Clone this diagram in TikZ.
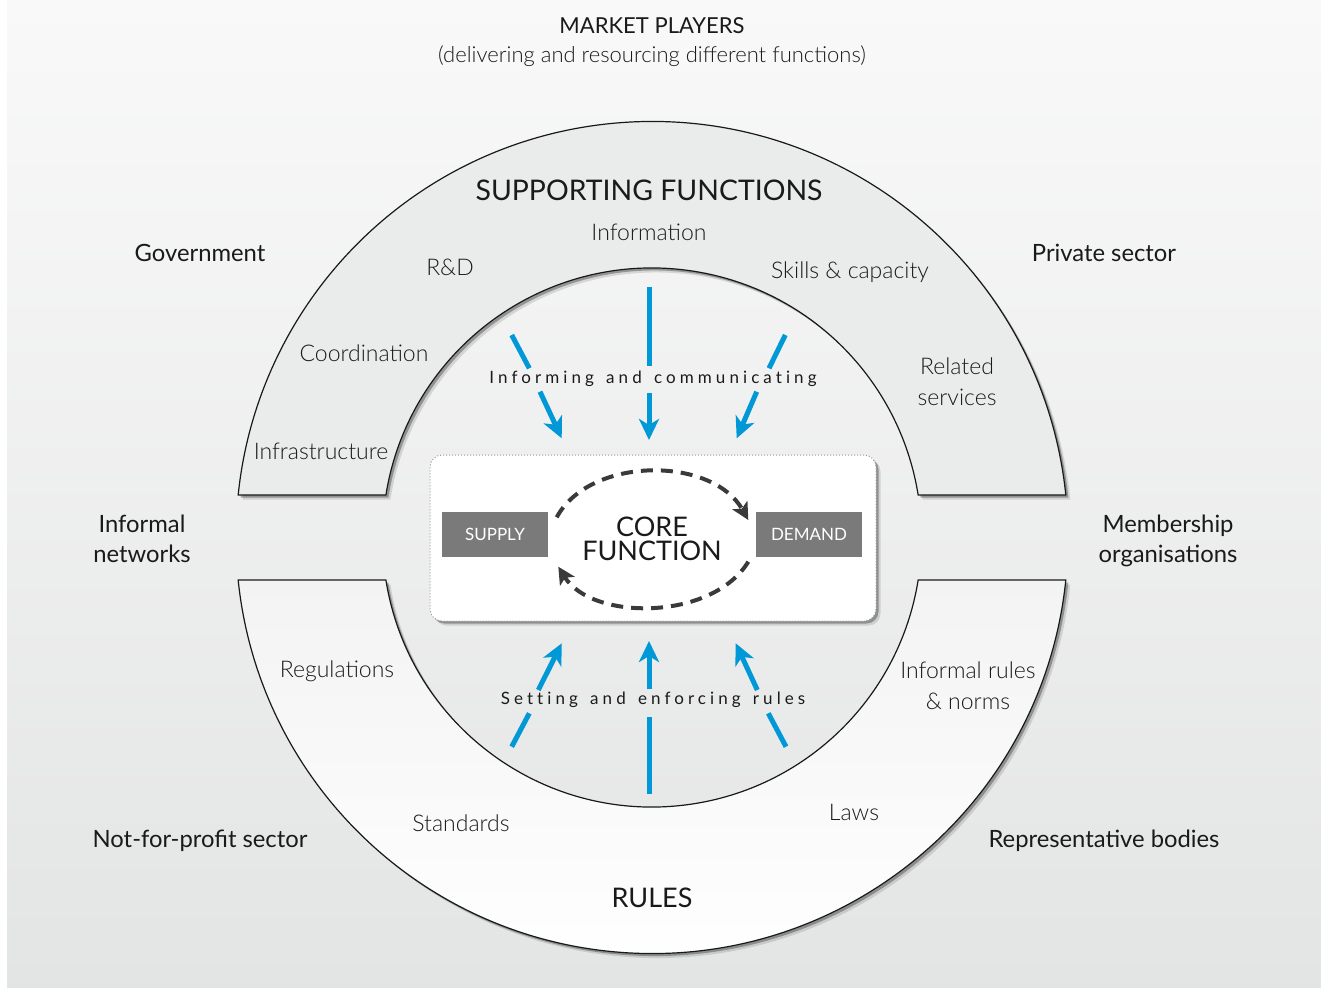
\documentclass[tikz,border=0pt]{standalone}
\usepackage{fontspec}
\setmainfont{Lato}
\newfontfamily\lightfont{Lato Light}
\newfontfamily\spacedfont{Lato}[LetterSpace=24, WordSpace=1.45, Ligatures={NoCommon}]
\usetikzlibrary{shadows,arrows.meta}
\definecolor{bgtop}{HTML}{F9F9F9}
\definecolor{bgbot}{HTML}{E3E4E4}
\definecolor{ringtop}{HTML}{EAEBEB}
\definecolor{ringbotA}{HTML}{F3F3F3}
\definecolor{ringbotB}{HTML}{FFFFFF}
\definecolor{blu}{RGB}{0,152,214}
\definecolor{boxgray}{HTML}{7A7A7A}
\definecolor{dashgray}{HTML}{3A3A3A}
\definecolor{txt}{HTML}{1A1A1A}
\definecolor{lighttxt}{HTML}{1A1A1A}
\tikzset{
  shd/.style={drop shadow={shadow xshift=4.5pt, shadow yshift=-4.5pt, fill=black, opacity=0.12},
              drop shadow={shadow xshift=2.5pt, shadow yshift=-2.5pt, fill=black, opacity=0.3}},
  ring/.style={shd, draw=black!90, line width=1.2pt, line join=miter},
  head/.style={font=\fontsize{22}{26}\selectfont, text=txt, align=center, inner sep=0pt},
  bighead/.style={font=\fontsize{28.4}{30}\selectfont, text=txt, align=center, inner sep=0pt},
  lightlbl/.style={font=\lightfont\fontsize{23}{31}\selectfont, text=lighttxt, align=center, inner sep=0pt},
  player/.style={font=\fontsize{23.8}{30}\selectfont, text=txt, align=center, inner sep=0pt},
  spaced/.style={font=\spacedfont\fontsize{17}{20}\selectfont, text=lighttxt, inner sep=0pt},
  sdbox/.style={fill=boxgray, text=white, minimum width=106pt, minimum height=45pt, inner sep=0pt, font=\fontsize{17}{20}\selectfont},
  blueline/.style={draw=blu, line width=5pt},
  bluearrow/.style={draw=blu, line width=5pt, -{Stealth[length=21pt,width=20pt,inset=6pt]}},
  dasharrow/.style={draw=dashgray, line width=4pt, dash pattern=on 12pt off 8pt, -{Stealth[length=17pt,width=17pt,inset=4pt]}}
}
\begin{document}
\begin{tikzpicture}[x=1pt,y=-1pt]
\useasboundingbox (0,0) rectangle (1321,987);
\fill[white] (0,0) rectangle (1321,987);
\shade[top color=bgtop, bottom color=bgbot] (7,0) rectangle (1321,987);

% top ring (supporting functions)
\path[ring, fill=ringtop] (1065.8,495) arc[start angle=-5.86, end angle=-174.14, radius=416]
  -- (385.9,495) arc[start angle=-170.93, end angle=-9.07, radius=269.5] -- cycle;
% bottom ring (rules)
\path[ring, top color=ringbotA, bottom color=ringbotB] (1065.8,580) arc[start angle=5.86, end angle=174.14, radius=416]
  -- (385.9,580) arc[start angle=170.93, end angle=9.07, radius=269.5] -- cycle;

% core box
\node[shd, draw=gray!80, dotted, line width=1pt, fill=white, rounded corners=12pt,
      minimum width=446pt, minimum height=166pt] (core) at (653,538) {};
\node[sdbox] (supply) at (495,534.5) {SUPPLY};
\node[sdbox] (demand) at (809,534.5) {DEMAND};
\node[font=\fontsize{27}{24}\selectfont, text=txt, align=center, inner sep=0pt] (corefn) at (652,539) {CORE\\FUNCTION};

\coordinate (d1s) at (556.7,517.3);
\coordinate (d1e) at (748.3,520);
\coordinate (d2s) at (748.3,561.7);
\coordinate (d2e) at (558.3,566.7);
\draw[dasharrow] (d1s) .. controls (590,456) and (712,456) .. (d1e);
\draw[dasharrow] (d2s) .. controls (712,621) and (592,621) .. (d2e);

% headings
\node[head] (mp) at (652,26) {MARKET PLAYERS};
\node[lightlbl, font=\lightfont\fontsize{22}{26}\selectfont] (mpsub) at (652,56) {(delivering and resourcing different functions)};
\node[bighead] (sf) at (649,190) {SUPPORTING FUNCTIONS};
\node[bighead, font=\fontsize{27}{30}\selectfont] (rules) at (652,898) {RULES};

% supporting function labels
\node[lightlbl] (info) at (649,232) {Information};
\node[lightlbl] (rd) at (450,267) {R\&D};
\node[lightlbl] (skills) at (850,272) {Skills \& capacity};
\node[lightlbl] (coord) at (364,353) {Coordination};
\node[lightlbl] (related) at (957,382) {Related\\services};
\node[lightlbl] (infra) at (321,451) {Infrastructure};

% rules labels
\node[lightlbl] (regs) at (337,671) {Regulations};
\node[lightlbl] (informal) at (968,686) {Informal rules\\\& norms};
\node[lightlbl] (standards) at (461,823) {Standards};
\node[lightlbl] (laws) at (854,812) {Laws};

% players
\node[player] (gov) at (200,253) {Government};
\node[player] (priv) at (1104,253) {Private sector};
\node[player] (infnet) at (142,539) {Informal\\networks};
\node[player] (member) at (1168,541) {Membership\\organisations};
\node[player] (nfp) at (200,841) {Not-for-profit sector};
\node[player] (rep) at (1104,841) {Representative bodies};

% spaced captions
\node[spaced] (inform) at (653,379) {Informing and communicating};
\node[spaced] (setting) at (653,700) {Setting and enforcing rules};

% blue arrows top
\coordinate (t1a) at (511.7,335); \coordinate (t1b) at (529.3,368.3);
\coordinate (t1c) at (540,391.7); \coordinate (t1d) at (561.7,438.3);
\coordinate (t2a) at (649,287);   \coordinate (t2b) at (649,365.7);
\coordinate (t2c) at (649,392.7); \coordinate (t2d) at (649,440);
\coordinate (t3a) at (785.3,335); \coordinate (t3b) at (769,368.3);
\coordinate (t3c) at (756.7,391.7); \coordinate (t3d) at (736.7,438.3);
\draw[blueline] (t1a) -- (t1b); \draw[bluearrow] (t1c) -- (t1d);
\draw[blueline] (t2a) -- (t2b); \draw[bluearrow] (t2c) -- (t2d);
\draw[blueline] (t3a) -- (t3b); \draw[bluearrow] (t3c) -- (t3d);

% blue arrows bottom
\coordinate (b1a) at (511.7,746.7); \coordinate (b1b) at (529.3,713.3);
\coordinate (b1c) at (538.3,690);   \coordinate (b1d) at (561.7,643.3);
\coordinate (b2a) at (649,794);     \coordinate (b2b) at (649,716.7);
\coordinate (b2c) at (649,689.3);   \coordinate (b2d) at (649,641);
\coordinate (b3a) at (786,746.7);   \coordinate (b3b) at (768.3,713.3);
\coordinate (b3c) at (757.3,690);   \coordinate (b3d) at (735.7,643.3);
\draw[blueline] (b1a) -- (b1b); \draw[bluearrow] (b1c) -- (b1d);
\draw[blueline] (b2a) -- (b2b); \draw[bluearrow] (b2c) -- (b2d);
\draw[blueline] (b3a) -- (b3b); \draw[bluearrow] (b3c) -- (b3d);
\end{tikzpicture}
\end{document}
